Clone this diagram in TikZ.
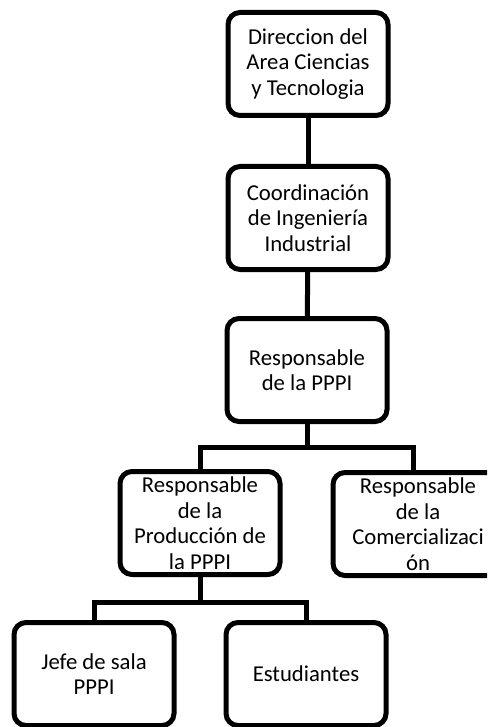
\documentclass[tikz,border=0pt]{standalone}
\usepackage{fontspec}
\setmainfont{Carlito}
\tikzset{
  cargo/.style={draw, line width=5pt, rounded corners=12pt, fill=white,
    minimum width=160pt, minimum height=103pt, align=center, inner sep=2pt,
    font=\fontsize{22.7}{25.5}\selectfont},
  enlace/.style={line width=5pt}
}
\begin{document}
\begin{tikzpicture}[x=1pt,y=1pt,yscale=-1,xscale=1]
\useasboundingbox (0,0) rectangle (487,727);
\clip (0,0) rectangle (487,727);
%Shape: Boxes
\node[cargo] (dir) at (308,64) {Direccion del\\Area Ciencias\\y Tecnologia};
\node[cargo] (coord) at (308,218) {Coordinación\\de Ingeniería\\Industrial};
\node[cargo] (resp) at (307,370) {Responsable\\de la PPPI};
\node[cargo] (prod) at (200,523) {Responsable\\de la\\Producción de\\la PPPI};
\node[cargo, minimum width=170pt] (com) at (418,524) {Responsable\\de la\\Comercializaci\\ón};
\node[cargo] (jefe) at (94,674) {Jefe de sala\\PPPI};
\node[cargo] (est) at (306,674) {Estudiantes};
%Bus points
\coordinate (bus1) at (307,447);
\coordinate (bus2) at (200,602);
%Straight Lines
\draw[enlace] (dir) -- (coord);
\draw[enlace] (coord) -- (resp);
\draw[enlace] (resp) -- (bus1);
\draw[enlace] (prod.north) |- (bus1) -| ([xshift=-5pt]com.north);
\draw[enlace] (prod) -- (bus2);
\draw[enlace] (jefe.north) |- (bus2) -| (est.north);
\end{tikzpicture}
\end{document}
